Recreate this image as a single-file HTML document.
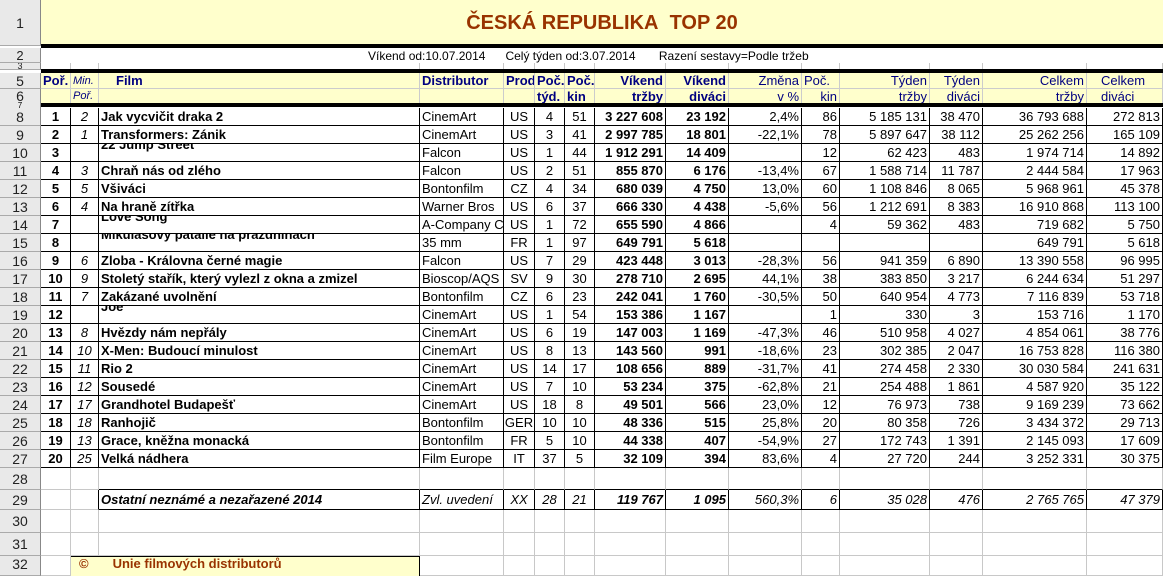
<!DOCTYPE html>
<html><head><meta charset="utf-8"><style>
*{margin:0;padding:0;box-sizing:border-box}
body{width:1163px;height:569px;overflow:hidden;background:#fff;font-family:"Liberation Sans",sans-serif;font-size:13px;color:#000;position:relative}
.r{position:absolute;left:0;display:flex;width:1163px}
.c{flex:none;border-right:1px solid #000;border-bottom:1px solid #000;padding:0 2px;overflow:hidden;white-space:nowrap;display:flex;align-items:center}
.g .c{border-color:#c8c8c8}
.h{background:#e9e9e9;border-right:1px solid #888!important;border-bottom:1px solid #aaa!important;justify-content:center;font-size:14px;color:#222}
.w0{width:41px}.w1{width:30px}.w2{width:28px}.w3{width:321px}.w4{width:84px}.w5{width:31px}.w6{width:30px}.w7{width:30px}.w8{width:71px}.w9{width:63px}.w10{width:73px}.w11{width:38px}.w12{width:90px}.w13{width:53px}.w14{width:104px}.w15{width:76px}
.ct{justify-content:center}.rt{justify-content:flex-end}
.b{font-weight:bold}.i{font-style:italic}
.up span{position:relative;top:-8px}
.d{height:18px}
.yl{background:#ffffcc}
.nv{color:#000080}
</style></head><body>
<!-- row1 -->
<div class="r" style="top:0;height:46px"><div class="c h w0" style="height:46px">1</div><div class="c yl" style="width:1122px;height:46px;border:none;justify-content:center;font-size:20px;font-weight:bold;color:#993300">ČESKÁ REPUBLIKA&nbsp; TOP 20</div></div>
<div style="position:absolute;left:41px;top:44px;width:1122px;height:4px;background:#000"></div>
<div class="r" style="top:48px;height:15px"><div class="c h w0" style="height:15px;font-size:13px">2</div><div class="c" style="width:1122px;border:none;height:15px;font-size:12px;padding-left:327px;word-spacing:0">Víkend od:10.07.2014&nbsp;&nbsp;&nbsp;&nbsp;&nbsp; Celý týden od:3.07.2014&nbsp;&nbsp;&nbsp;&nbsp;&nbsp;&nbsp; Razení sestavy=Podle tržeb</div></div>
<div class="r g" style="top:63px;height:7px"><div class="c h w0" style="height:7px;font-size:9px;line-height:7px">3</div><div class="c w1" style="height:7px"></div><div class="c w2"></div><div class="c w3"></div><div class="c w4"></div><div class="c w5"></div><div class="c w6"></div><div class="c w7"></div><div class="c w8"></div><div class="c w9"></div><div class="c w10"></div><div class="c w11"></div><div class="c w12"></div><div class="c w13"></div><div class="c w14"></div><div class="c w15"></div></div>
<div style="position:absolute;left:41px;top:69px;width:1122px;height:4px;background:#000"></div>
<div class="r yl" style="top:73px;height:16px;left:0"><div class="c h w0" style="height:16px">5</div><div class="c w1 b nv" style="border-color:#ccc">Poř.</div><div class="c w2 i nv" style="font-size:11px;border-color:#ccc">Min.</div><div class="c w3 b nv" style="padding-left:17px;border-color:#ccc">Film</div><div class="c w4 b nv" style="border-color:#ccc">Distributor</div><div class="c w5 b nv" style="border-color:#ccc">Prod</div><div class="c w6 b nv" style="border-color:#ccc">Poč.</div><div class="c w7 b nv" style="border-color:#ccc">Poč.</div><div class="c w8 b nv rt" style="border-color:#ccc">Víkend</div><div class="c w9 b nv rt" style="border-color:#ccc">Víkend</div><div class="c w10 nv rt" style="border-color:#ccc">Změna</div><div class="c w11 nv" style="border-color:#ccc">Poč.</div><div class="c w12 nv rt" style="border-color:#ccc">Týden</div><div class="c w13 nv rt" style="border-color:#ccc">Týden</div><div class="c w14 nv rt" style="border-color:#ccc">Celkem</div><div class="c w15 nv" style="padding-left:14px;border-color:#ccc">Celkem</div></div>
<div class="r yl" style="top:89px;height:15px"><div class="c h w0" style="height:15px">6</div><div class="c w1" style="border-color:#ccc"></div><div class="c w2 i nv" style="font-size:11px;border-color:#ccc">Poř.</div><div class="c w3" style="border-color:#ccc"></div><div class="c w4" style="border-color:#ccc"></div><div class="c w5" style="border-color:#ccc"></div><div class="c w6 b nv" style="border-color:#ccc">týd.</div><div class="c w7 b nv" style="border-color:#ccc">kin</div><div class="c w8 b nv rt" style="border-color:#ccc">tržby</div><div class="c w9 b nv rt" style="border-color:#ccc">diváci</div><div class="c w10 nv rt" style="border-color:#ccc">v %</div><div class="c w11 nv rt" style="border-color:#ccc">kin</div><div class="c w12 nv rt" style="border-color:#ccc">tržby</div><div class="c w13 nv rt" style="border-color:#ccc">diváci</div><div class="c w14 nv rt" style="border-color:#ccc">tržby</div><div class="c w15 nv" style="padding-left:14px;border-color:#ccc">diváci</div></div>
<div style="position:absolute;left:41px;top:103px;width:1122px;height:4px;background:#000"></div>
<div style="position:absolute;left:0;top:103px;width:41px;height:5px;background:#e9e9e9;border-right:1px solid #888;font-size:8px;line-height:5px;text-align:center">7</div>

<div style="position:absolute;top:108px;left:0;width:1163px">
<div class="r d" style="top:0"><div class="c h w0 d">8</div><div class="c w1 ct b">1</div><div class="c w2 ct i">2</div><div class="c w3 b">Jak vycvičit draka 2</div><div class="c w4">CinemArt</div><div class="c w5 ct">US</div><div class="c w6 ct">4</div><div class="c w7 ct">51</div><div class="c w8 rt b">3 227 608</div><div class="c w9 rt b">23 192</div><div class="c w10 rt">2,4%</div><div class="c w11 rt">86</div><div class="c w12 rt">5 185 131</div><div class="c w13 rt">38 470</div><div class="c w14 rt">36 793 688</div><div class="c w15 rt">272 813</div></div>
<div class="r d" style="top:18px"><div class="c h w0 d">9</div><div class="c w1 ct b">2</div><div class="c w2 ct i">1</div><div class="c w3 b">Transformers: Zánik</div><div class="c w4">CinemArt</div><div class="c w5 ct">US</div><div class="c w6 ct">3</div><div class="c w7 ct">41</div><div class="c w8 rt b">2 997 785</div><div class="c w9 rt b">18 801</div><div class="c w10 rt">-22,1%</div><div class="c w11 rt">78</div><div class="c w12 rt">5 897 647</div><div class="c w13 rt">38 112</div><div class="c w14 rt">25 262 256</div><div class="c w15 rt">165 109</div></div>
<div class="r d" style="top:36px"><div class="c h w0 d">10</div><div class="c w1 ct b">3</div><div class="c w2 ct i"></div><div class="c w3 b up"><span>22 Jump Street</span></div><div class="c w4">Falcon</div><div class="c w5 ct">US</div><div class="c w6 ct">1</div><div class="c w7 ct">44</div><div class="c w8 rt b">1 912 291</div><div class="c w9 rt b">14 409</div><div class="c w10 rt"></div><div class="c w11 rt">12</div><div class="c w12 rt">62 423</div><div class="c w13 rt">483</div><div class="c w14 rt">1 974 714</div><div class="c w15 rt">14 892</div></div>
<div class="r d" style="top:54px"><div class="c h w0 d">11</div><div class="c w1 ct b">4</div><div class="c w2 ct i">3</div><div class="c w3 b">Chraň nás od zlého</div><div class="c w4">Falcon</div><div class="c w5 ct">US</div><div class="c w6 ct">2</div><div class="c w7 ct">51</div><div class="c w8 rt b">855 870</div><div class="c w9 rt b">6 176</div><div class="c w10 rt">-13,4%</div><div class="c w11 rt">67</div><div class="c w12 rt">1 588 714</div><div class="c w13 rt">11 787</div><div class="c w14 rt">2 444 584</div><div class="c w15 rt">17 963</div></div>
<div class="r d" style="top:72px"><div class="c h w0 d">12</div><div class="c w1 ct b">5</div><div class="c w2 ct i">5</div><div class="c w3 b">Všiváci</div><div class="c w4">Bontonfilm</div><div class="c w5 ct">CZ</div><div class="c w6 ct">4</div><div class="c w7 ct">34</div><div class="c w8 rt b">680 039</div><div class="c w9 rt b">4 750</div><div class="c w10 rt">13,0%</div><div class="c w11 rt">60</div><div class="c w12 rt">1 108 846</div><div class="c w13 rt">8 065</div><div class="c w14 rt">5 968 961</div><div class="c w15 rt">45 378</div></div>
<div class="r d" style="top:90px"><div class="c h w0 d">13</div><div class="c w1 ct b">6</div><div class="c w2 ct i">4</div><div class="c w3 b">Na hraně zítřka</div><div class="c w4">Warner Bros</div><div class="c w5 ct">US</div><div class="c w6 ct">6</div><div class="c w7 ct">37</div><div class="c w8 rt b">666 330</div><div class="c w9 rt b">4 438</div><div class="c w10 rt">-5,6%</div><div class="c w11 rt">56</div><div class="c w12 rt">1 212 691</div><div class="c w13 rt">8 383</div><div class="c w14 rt">16 910 868</div><div class="c w15 rt">113 100</div></div>
<div class="r d" style="top:108px"><div class="c h w0 d">14</div><div class="c w1 ct b">7</div><div class="c w2 ct i"></div><div class="c w3 b up"><span>Love Song</span></div><div class="c w4">A-Company C</div><div class="c w5 ct">US</div><div class="c w6 ct">1</div><div class="c w7 ct">72</div><div class="c w8 rt b">655 590</div><div class="c w9 rt b">4 866</div><div class="c w10 rt"></div><div class="c w11 rt">4</div><div class="c w12 rt">59 362</div><div class="c w13 rt">483</div><div class="c w14 rt">719 682</div><div class="c w15 rt">5 750</div></div>
<div class="r d" style="top:126px"><div class="c h w0 d">15</div><div class="c w1 ct b">8</div><div class="c w2 ct i"></div><div class="c w3 b up"><span>Mikulášovy patálie na prázdninách</span></div><div class="c w4">35 mm</div><div class="c w5 ct">FR</div><div class="c w6 ct">1</div><div class="c w7 ct">97</div><div class="c w8 rt b">649 791</div><div class="c w9 rt b">5 618</div><div class="c w10 rt"></div><div class="c w11 rt"></div><div class="c w12 rt"></div><div class="c w13 rt"></div><div class="c w14 rt">649 791</div><div class="c w15 rt">5 618</div></div>
<div class="r d" style="top:144px"><div class="c h w0 d">16</div><div class="c w1 ct b">9</div><div class="c w2 ct i">6</div><div class="c w3 b">Zloba - Královna černé magie</div><div class="c w4">Falcon</div><div class="c w5 ct">US</div><div class="c w6 ct">7</div><div class="c w7 ct">29</div><div class="c w8 rt b">423 448</div><div class="c w9 rt b">3 013</div><div class="c w10 rt">-28,3%</div><div class="c w11 rt">56</div><div class="c w12 rt">941 359</div><div class="c w13 rt">6 890</div><div class="c w14 rt">13 390 558</div><div class="c w15 rt">96 995</div></div>
<div class="r d" style="top:162px"><div class="c h w0 d">17</div><div class="c w1 ct b">10</div><div class="c w2 ct i">9</div><div class="c w3 b">Stoletý stařík, který vylezl z okna a zmizel</div><div class="c w4">Bioscop/AQS</div><div class="c w5 ct">SV</div><div class="c w6 ct">9</div><div class="c w7 ct">30</div><div class="c w8 rt b">278 710</div><div class="c w9 rt b">2 695</div><div class="c w10 rt">44,1%</div><div class="c w11 rt">38</div><div class="c w12 rt">383 850</div><div class="c w13 rt">3 217</div><div class="c w14 rt">6 244 634</div><div class="c w15 rt">51 297</div></div>
<div class="r d" style="top:180px"><div class="c h w0 d">18</div><div class="c w1 ct b">11</div><div class="c w2 ct i">7</div><div class="c w3 b">Zakázané uvolnění</div><div class="c w4">Bontonfilm</div><div class="c w5 ct">CZ</div><div class="c w6 ct">6</div><div class="c w7 ct">23</div><div class="c w8 rt b">242 041</div><div class="c w9 rt b">1 760</div><div class="c w10 rt">-30,5%</div><div class="c w11 rt">50</div><div class="c w12 rt">640 954</div><div class="c w13 rt">4 773</div><div class="c w14 rt">7 116 839</div><div class="c w15 rt">53 718</div></div>
<div class="r d" style="top:198px"><div class="c h w0 d">19</div><div class="c w1 ct b">12</div><div class="c w2 ct i"></div><div class="c w3 b up"><span>Joe</span></div><div class="c w4">CinemArt</div><div class="c w5 ct">US</div><div class="c w6 ct">1</div><div class="c w7 ct">54</div><div class="c w8 rt b">153 386</div><div class="c w9 rt b">1 167</div><div class="c w10 rt"></div><div class="c w11 rt">1</div><div class="c w12 rt">330</div><div class="c w13 rt">3</div><div class="c w14 rt">153 716</div><div class="c w15 rt">1 170</div></div>
<div class="r d" style="top:216px"><div class="c h w0 d">20</div><div class="c w1 ct b">13</div><div class="c w2 ct i">8</div><div class="c w3 b">Hvězdy nám nepřály</div><div class="c w4">CinemArt</div><div class="c w5 ct">US</div><div class="c w6 ct">6</div><div class="c w7 ct">19</div><div class="c w8 rt b">147 003</div><div class="c w9 rt b">1 169</div><div class="c w10 rt">-47,3%</div><div class="c w11 rt">46</div><div class="c w12 rt">510 958</div><div class="c w13 rt">4 027</div><div class="c w14 rt">4 854 061</div><div class="c w15 rt">38 776</div></div>
<div class="r d" style="top:234px"><div class="c h w0 d">21</div><div class="c w1 ct b">14</div><div class="c w2 ct i">10</div><div class="c w3 b">X-Men: Budoucí minulost</div><div class="c w4">CinemArt</div><div class="c w5 ct">US</div><div class="c w6 ct">8</div><div class="c w7 ct">13</div><div class="c w8 rt b">143 560</div><div class="c w9 rt b">991</div><div class="c w10 rt">-18,6%</div><div class="c w11 rt">23</div><div class="c w12 rt">302 385</div><div class="c w13 rt">2 047</div><div class="c w14 rt">16 753 828</div><div class="c w15 rt">116 380</div></div>
<div class="r d" style="top:252px"><div class="c h w0 d">22</div><div class="c w1 ct b">15</div><div class="c w2 ct i">11</div><div class="c w3 b">Rio 2</div><div class="c w4">CinemArt</div><div class="c w5 ct">US</div><div class="c w6 ct">14</div><div class="c w7 ct">17</div><div class="c w8 rt b">108 656</div><div class="c w9 rt b">889</div><div class="c w10 rt">-31,7%</div><div class="c w11 rt">41</div><div class="c w12 rt">274 458</div><div class="c w13 rt">2 330</div><div class="c w14 rt">30 030 584</div><div class="c w15 rt">241 631</div></div>
<div class="r d" style="top:270px"><div class="c h w0 d">23</div><div class="c w1 ct b">16</div><div class="c w2 ct i">12</div><div class="c w3 b">Sousedé</div><div class="c w4">CinemArt</div><div class="c w5 ct">US</div><div class="c w6 ct">7</div><div class="c w7 ct">10</div><div class="c w8 rt b">53 234</div><div class="c w9 rt b">375</div><div class="c w10 rt">-62,8%</div><div class="c w11 rt">21</div><div class="c w12 rt">254 488</div><div class="c w13 rt">1 861</div><div class="c w14 rt">4 587 920</div><div class="c w15 rt">35 122</div></div>
<div class="r d" style="top:288px"><div class="c h w0 d">24</div><div class="c w1 ct b">17</div><div class="c w2 ct i">17</div><div class="c w3 b">Grandhotel Budapešť</div><div class="c w4">CinemArt</div><div class="c w5 ct">US</div><div class="c w6 ct">18</div><div class="c w7 ct">8</div><div class="c w8 rt b">49 501</div><div class="c w9 rt b">566</div><div class="c w10 rt">23,0%</div><div class="c w11 rt">12</div><div class="c w12 rt">76 973</div><div class="c w13 rt">738</div><div class="c w14 rt">9 169 239</div><div class="c w15 rt">73 662</div></div>
<div class="r d" style="top:306px"><div class="c h w0 d">25</div><div class="c w1 ct b">18</div><div class="c w2 ct i">18</div><div class="c w3 b">Ranhojič</div><div class="c w4">Bontonfilm</div><div class="c w5 ct">GER</div><div class="c w6 ct">10</div><div class="c w7 ct">10</div><div class="c w8 rt b">48 336</div><div class="c w9 rt b">515</div><div class="c w10 rt">25,8%</div><div class="c w11 rt">20</div><div class="c w12 rt">80 358</div><div class="c w13 rt">726</div><div class="c w14 rt">3 434 372</div><div class="c w15 rt">29 713</div></div>
<div class="r d" style="top:324px"><div class="c h w0 d">26</div><div class="c w1 ct b">19</div><div class="c w2 ct i">13</div><div class="c w3 b">Grace, kněžna monacká</div><div class="c w4">Bontonfilm</div><div class="c w5 ct">FR</div><div class="c w6 ct">5</div><div class="c w7 ct">10</div><div class="c w8 rt b">44 338</div><div class="c w9 rt b">407</div><div class="c w10 rt">-54,9%</div><div class="c w11 rt">27</div><div class="c w12 rt">172 743</div><div class="c w13 rt">1 391</div><div class="c w14 rt">2 145 093</div><div class="c w15 rt">17 609</div></div>
<div class="r d" style="top:342px"><div class="c h w0 d">27</div><div class="c w1 ct b">20</div><div class="c w2 ct i">25</div><div class="c w3 b">Velká nádhera</div><div class="c w4">Film Europe</div><div class="c w5 ct">IT</div><div class="c w6 ct">37</div><div class="c w7 ct">5</div><div class="c w8 rt b">32 109</div><div class="c w9 rt b">394</div><div class="c w10 rt">83,6%</div><div class="c w11 rt">4</div><div class="c w12 rt">27 720</div><div class="c w13 rt">244</div><div class="c w14 rt">3 252 331</div><div class="c w15 rt">30 375</div></div>
</div>

<div class="r g" style="top:468px;height:22px"><div class="c h w0" style="height:22px">28</div><div class="c w1"></div><div class="c w2"></div><div class="c w3" style="border-bottom-color:#000"></div><div class="c w4" style="border-bottom-color:#000"></div><div class="c w5" style="border-bottom-color:#000"></div><div class="c w6" style="border-bottom-color:#000"></div><div class="c w7" style="border-bottom-color:#000"></div><div class="c w8" style="border-bottom-color:#000"></div><div class="c w9" style="border-bottom-color:#000"></div><div class="c w10" style="border-bottom-color:#000"></div><div class="c w11" style="border-bottom-color:#000"></div><div class="c w12" style="border-bottom-color:#000"></div><div class="c w13" style="border-bottom-color:#000"></div><div class="c w14" style="border-bottom-color:#000"></div><div class="c w15" style="border-bottom-color:#000"></div></div>
<div class="r" style="top:490px;height:20px"><div class="c h w0" style="height:20px">29</div><div class="c w1" style="border-color:#c8c8c8"></div><div class="c w2" style="border-bottom-color:#c8c8c8"></div><div class="c w3 b i">Ostatní neznámé a nezařazené 2014</div><div class="c w4 i">Zvl. uvedení</div><div class="c w5 ct i">XX</div><div class="c w6 ct i">28</div><div class="c w7 ct i">21</div><div class="c w8 rt b i">119 767</div><div class="c w9 rt b i">1 095</div><div class="c w10 rt i">560,3%</div><div class="c w11 rt i">6</div><div class="c w12 rt i">35 028</div><div class="c w13 rt i">476</div><div class="c w14 rt i">2 765 765</div><div class="c w15 rt i">47 379</div></div>
<div class="r g" style="top:510px;height:23px"><div class="c h w0" style="height:23px">30</div><div class="c w1"></div><div class="c w2"></div><div class="c w3"></div><div class="c w4"></div><div class="c w5"></div><div class="c w6"></div><div class="c w7"></div><div class="c w8"></div><div class="c w9"></div><div class="c w10"></div><div class="c w11"></div><div class="c w12"></div><div class="c w13"></div><div class="c w14"></div><div class="c w15"></div></div>
<div class="r g" style="top:533px;height:23px"><div class="c h w0" style="height:23px">31</div><div class="c w1"></div><div class="c w2"></div><div class="c w3"></div><div class="c w4"></div><div class="c w5"></div><div class="c w6"></div><div class="c w7"></div><div class="c w8"></div><div class="c w9"></div><div class="c w10"></div><div class="c w11"></div><div class="c w12"></div><div class="c w13"></div><div class="c w14"></div><div class="c w15"></div></div>
<div class="r g" style="top:556px;height:20px"><div class="c h w0" style="height:20px;align-items:flex-start">32</div><div class="c w1" style="height:20px"></div><div class="yl" style="width:349px;height:20px;border-top:1px solid #000;border-right:1px solid #000;color:#993300;font-weight:bold;padding-left:8px;line-height:14px;font-size:13px">©<span style="margin-left:24px">Unie filmových distributorů</span></div><div class="c w4"></div><div class="c w5"></div><div class="c w6"></div><div class="c w7"></div><div class="c w8"></div><div class="c w9"></div><div class="c w10"></div><div class="c w11"></div><div class="c w12"></div><div class="c w13"></div><div class="c w14"></div><div class="c w15"></div></div>
</body></html>
